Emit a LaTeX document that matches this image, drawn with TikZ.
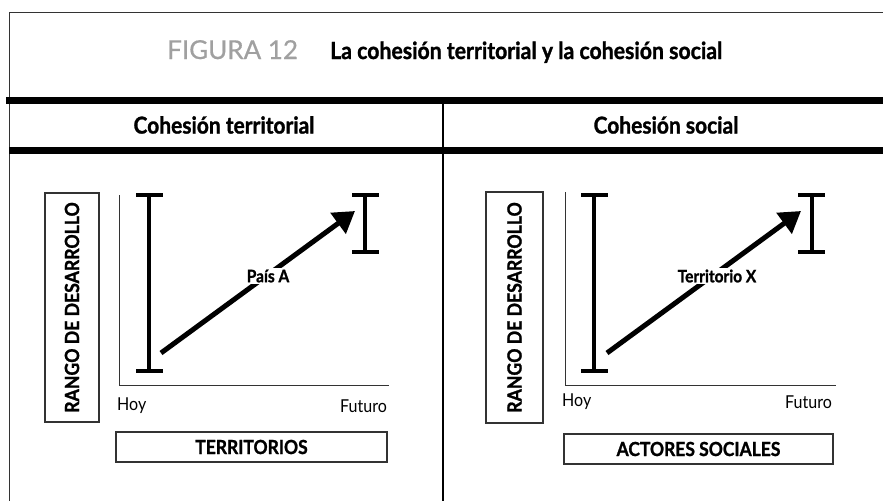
\documentclass[tikz,border=0pt]{standalone}
\usepackage{fontspec}
\setmainfont{Lato}[FakeStretch=0.9, BoldFeatures={FakeBold=1.2}]
\newfontfamily\figfont{Lato}[FakeBold=0.6]
\usetikzlibrary{arrows.meta}
\definecolor{figgray}{HTML}{A0A0A0}
\definecolor{linegray}{HTML}{333333}
\tikzset{
  frameline/.style={line width=1pt, linegray},
  heavyrule/.style={line width=7pt, black},
  divider/.style={line width=2.5pt, black},
  labelbox/.style={draw=linegray, line width=1.2pt, minimum width=54pt, minimum height=229pt, inner sep=0pt},
  namebox/.style={draw=linegray, line width=1.2pt, minimum height=30pt, inner sep=0pt, font=\bfseries\fontsize{19.4}{22}\selectfont},
  axisline/.style={line width=1pt, linegray},
  ibar/.style={line width=4pt, black},
  trend/.style={line width=5pt, black, -{Triangle[length=21pt,width=25pt]}},
  trendlabel/.style={fill=white, inner sep=2pt, font=\bfseries\fontsize{17.2}{20}\selectfont},
  ticktext/.style={inner sep=0pt, font=\fontsize{17.8}{20}\selectfont},
  headtext/.style={inner sep=0pt, font=\bfseries\fontsize{23.3}{26}\selectfont},
  ylabel/.style={rotate=90, inner sep=0pt, font=\bfseries\fontsize{19.6}{22}\selectfont}
}
\begin{document}
\begin{tikzpicture}[x=1pt,y=-1pt]
\useasboundingbox (0,0) rectangle (883,501);
% frame
\draw[frameline] (883,12) -- (9,12) -- (9,501);
\draw[heavyrule] (6,100.5) -- (883,100.5);
\draw[heavyrule] (9,150.5) -- (883,150.5);
\draw[divider] (443,104) -- (443,501);
% title
\node[anchor=base west, inner sep=0pt, text=figgray, font=\figfont\fontsize{26}{28}\selectfont] (fig) at (167,59) {FIGURA 12};
\node[anchor=base west, inner sep=0pt, font=\bfseries\fontsize{23.6}{26}\selectfont] (title) at (330,59) {La cohesión territorial y la cohesión social};
% column heads
\node[headtext] (hl) at (224,125) {Cohesión territorial};
\node[headtext] (hr) at (666,125) {Cohesión social};

% ---------- left panel ----------
\node[labelbox] (ylL) at (72,307.5) {};
\node[ylabel] (ytL) at (ylL.center) {RANGO DE DESARROLLO};
\coordinate (oL) at (119,385);
\coordinate (yTopL) at (119,195);
\coordinate (xEndL) at (389,385);
\draw[axisline] (yTopL) -- (oL) -- (xEndL);
\coordinate (b1tL) at (149,195);
\coordinate (b1bL) at (149,371);
\draw[ibar] (b1tL) -- (b1bL);
\draw[ibar] (136,195) -- (163,195);
\draw[ibar] (136,371) -- (163,371);
\coordinate (b2tL) at (365,195);
\coordinate (b2bL) at (365,252);
\draw[ibar] (b2tL) -- (b2bL);
\draw[ibar] (352,195) -- (379,195);
\draw[ibar] (352,252) -- (379,252);
\coordinate (aSL) at (161,353);
\coordinate (aEL) at (355,211);
\draw[trend] (aSL) -- (aEL);
\node[trendlabel] (pL) at (268,276) {País A};
\node[ticktext, anchor=west] (hoyL) at (117,406) {Hoy};
\node[ticktext, anchor=east] (futL) at (387,406) {Futuro};
\node[namebox, minimum width=271pt] (nbL) at (251.5,447) {TERRITORIOS};

% ---------- right panel ----------
\node[labelbox, minimum width=57pt, minimum height=231pt] (ylR) at (514.5,307.5) {};
\node[ylabel] (ytR) at (ylR.center) {RANGO DE DESARROLLO};
\coordinate (oR) at (565,385);
\coordinate (yTopR) at (565,192);
\coordinate (xEndR) at (836,385);
\draw[axisline] (yTopR) -- (oR) -- (xEndR);
\draw[ibar] (594,195) -- (594,371);
\draw[ibar] (581,195) -- (608,195);
\draw[ibar] (581,371) -- (608,371);
\draw[ibar] (812,195) -- (812,252);
\draw[ibar] (798,195) -- (825,195);
\draw[ibar] (798,252) -- (825,252);
\coordinate (aSR) at (607,353);
\coordinate (aER) at (801,211);
\draw[trend] (aSR) -- (aER);
\node[trendlabel] (pR) at (717,276) {Territorio X};
\node[ticktext, anchor=west] (hoyR) at (562,402) {Hoy};
\node[ticktext, anchor=east] (futR) at (832,402) {Futuro};
\node[namebox, minimum width=269pt] (nbR) at (698.5,449) {ACTORES SOCIALES};
\end{tikzpicture}
\end{document}
